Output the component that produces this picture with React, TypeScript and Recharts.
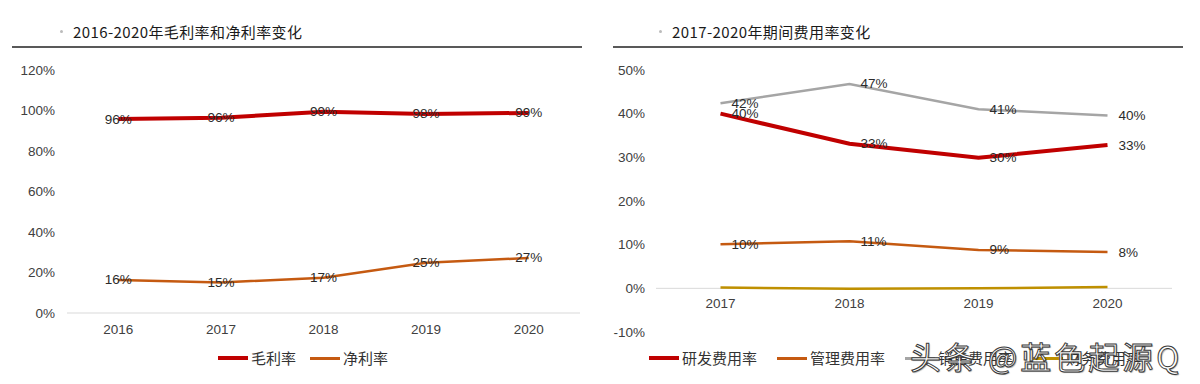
import { LineChart, Line, XAxis, YAxis, Legend, LabelList, ReferenceLine } from "recharts";

// left panel: 2016-2020 gross / net margin
const years1 = ["2016", "2017", "2018", "2019", "2020"];
const grossMargin = [95.8, 96.4, 99.4, 98.3, 98.8];
const netMargin = [16.3, 15.1, 17.4, 24.8, 27.2];
const ticks1 = [0, 20, 40, 60, 80, 100, 120];

// right panel: 2017-2020 expense ratios
const years2 = ["2017", "2018", "2019", "2020"];
const rdRate = [40.0, 33.1, 29.9, 32.8];
const adminRate = [10.1, 10.8, 8.8, 8.3];
const salesRate = [42.4, 46.8, 41.0, 39.6];
const financeRate = [0.2, -0.1, 0.0, 0.3];
const ticks2 = [-10, 0, 10, 20, 30, 40, 50];

const data1 = years1.map((y, i) => ({ year: y, gross: grossMargin[i], net: netMargin[i] }));
const data2 = years2.map((y, i) => ({
  year: y,
  rd: rdRate[i],
  admin: adminRate[i],
  sales: salesRate[i],
  finance: financeRate[i],
}));

const NUM_FONT = "'Liberation Sans', Arial, sans-serif";
const CJK_FONT = "'Noto Sans CJK SC', sans-serif";
const pct = (v: number) => `${Math.round(v)}%`;

const CenterLabel = (props: any) => {
  const { x, y, value } = props;
  return (
    <text x={x} y={y} textAnchor="middle" dominantBaseline="central" fontSize={13.5} fill="#2b2b2b" fontFamily={NUM_FONT}>
      {pct(value)}
    </text>
  );
};

const RightLabel = (props: any) => {
  const { x, y, value } = props;
  return (
    <text x={x + 11} y={y} textAnchor="start" dominantBaseline="central" fontSize={13.5} fill="#2b2b2b" fontFamily={NUM_FONT}>
      {pct(value)}
    </text>
  );
};

const RaisedTick = (props: any) => {
  const { x, y, payload } = props;
  return (
    <text x={x} y={y - 42} dy="0.71em" textAnchor="middle" fontSize={13.5} fill="#404040" fontFamily={NUM_FONT}>
      {payload.value}
    </text>
  );
};

type Item = { name: string; color: string; thick: number };

function makeLegend(items: Item[], start: number, gap: number) {
  return () => (
    <div style={{ display: "flex", alignItems: "center", height: 24, paddingLeft: start, boxSizing: "border-box" }}>
      {items.map((it) => (
        <div key={it.name} style={{ display: "flex", alignItems: "center", marginRight: gap }}>
          <span style={{ display: "inline-block", width: 30, height: it.thick, background: it.color, marginRight: 3 }} />
          <span style={{ fontSize: 15, color: "#333", fontFamily: CJK_FONT, lineHeight: "24px" }}>{it.name}</span>
        </div>
      ))}
    </div>
  );
}

const legend1: Item[] = [
  { name: "毛利率", color: "#C00000", thick: 4 },
  { name: "净利率", color: "#C55A11", thick: 3 },
];
const legend2: Item[] = [
  { name: "研发费用率", color: "#C00000", thick: 4 },
  { name: "管理费用率", color: "#C55A11", thick: 3 },
  { name: "销售费用率", color: "#A5A5A5", thick: 3 },
  { name: "财务费用率", color: "#BF9000", thick: 3 },
];

const tickStyle = { fontSize: 13.5, fill: "#404040", fontFamily: NUM_FONT };

function Title({ left, text }: { left: number; text: string }) {
  return (
    <div style={{ position: "absolute", left, top: 21, height: 20, display: "flex", alignItems: "center" }}>
      <span style={{ width: 3, height: 3, borderRadius: 2, background: "#bbb", marginRight: 10 }} />
      <span style={{ fontFamily: CJK_FONT, fontSize: 15, color: "#1a1a1a", letterSpacing: 0.4 }}>{text}</span>
    </div>
  );
}

export default function App() {
  return (
    <div style={{ position: "absolute", left: 0, top: 0, width: 1200, height: 384, background: "#fff", overflow: "hidden" }}>
      <div style={{ position: "absolute", left: 0, top: 0 }}>
        <LineChart width={600} height={384} data={data1} margin={{ top: 70, right: 20, bottom: 14, left: 0 }}>
          <XAxis
            dataKey="year"
            scale="band"
            height={33}
            tick={tickStyle}
            tickLine={false}
            tickMargin={5}
            axisLine={{ stroke: "#d9d9d9" }}
          />
          <YAxis
            width={67}
            domain={[0, 120]}
            ticks={ticks1}
            tickFormatter={(v) => `${v}%`}
            tick={tickStyle}
            tickLine={false}
            axisLine={false}
            tickMargin={6}
          />
          <Legend
            verticalAlign="bottom"
            content={makeLegend(legend1, 218, 14)}
            wrapperStyle={{ left: 0, width: 600 }}
          />
          <Line dataKey="gross" stroke="#C00000" strokeWidth={4} dot={false} isAnimationActive={false}>
            <LabelList dataKey="gross" content={CenterLabel} />
          </Line>
          <Line dataKey="net" stroke="#C55A11" strokeWidth={2.5} dot={false} isAnimationActive={false}>
            <LabelList dataKey="net" content={CenterLabel} />
          </Line>
        </LineChart>
      </div>

      <div style={{ position: "absolute", left: 600, top: 0 }}>
        <LineChart width={600} height={384} data={data2} margin={{ top: 70, right: 28, bottom: 14, left: 0 }}>
          <XAxis
            dataKey="year"
            scale="band"
            height={14}
            tick={<RaisedTick />}
            tickLine={false}
            axisLine={false}
          />
          <YAxis
            width={56}
            domain={[-10, 50]}
            ticks={ticks2}
            tickFormatter={(v) => `${v}%`}
            tick={tickStyle}
            tickLine={false}
            axisLine={false}
            tickMargin={5}
          />
          <ReferenceLine y={0} stroke="#d9d9d9" strokeWidth={1} />
          <Legend
            verticalAlign="bottom"
            content={makeLegend(legend2, 49, 20)}
            wrapperStyle={{ left: 0, width: 600 }}
          />
          <Line dataKey="finance" stroke="#BF9000" strokeWidth={2.5} dot={false} isAnimationActive={false} />
          <Line dataKey="admin" stroke="#C55A11" strokeWidth={2.5} dot={false} isAnimationActive={false}>
            <LabelList dataKey="admin" content={RightLabel} />
          </Line>
          <Line dataKey="sales" stroke="#A5A5A5" strokeWidth={2.5} dot={false} isAnimationActive={false}>
            <LabelList dataKey="sales" content={RightLabel} />
          </Line>
          <Line dataKey="rd" stroke="#C00000" strokeWidth={4} dot={false} isAnimationActive={false}>
            <LabelList dataKey="rd" content={RightLabel} />
          </Line>
        </LineChart>
      </div>

      <Title left={60} text="2016-2020年毛利率和净利率变化" />
      <Title left={659} text="2017-2020年期间费用率变化" />
      <div style={{ position: "absolute", left: 12, top: 46, width: 570, height: 2, background: "#595959" }} />
      <div style={{ position: "absolute", left: 613, top: 46, width: 570, height: 2, background: "#595959" }} />

      <div
        style={{
          position: "absolute",
          left: 910,
          top: 335,
          fontFamily: CJK_FONT,
          fontSize: 31,
          letterSpacing: 3,
          lineHeight: "42px",
          color: "#fff",
          WebkitTextStroke: "1px #3a3a3a",
          whiteSpace: "nowrap",
          textShadow: "1px 1px 1px rgba(0,0,0,0.35)",
        }}
      >
        头条 @蓝色起源Q
      </div>
    </div>
  );
}
